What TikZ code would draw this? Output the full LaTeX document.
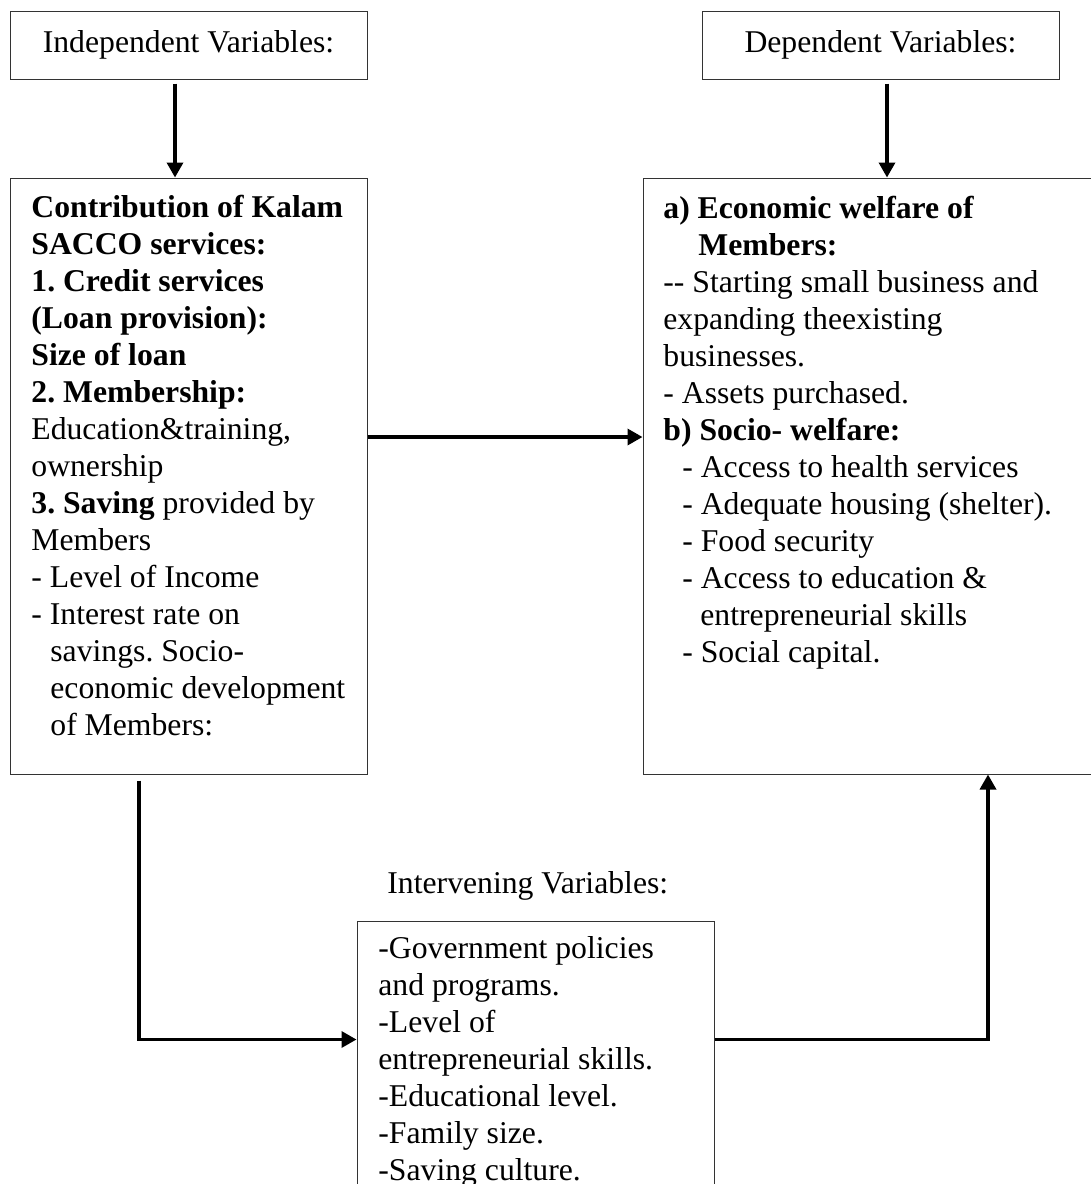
\documentclass[tikz,border=0pt]{standalone}
\usepackage{fontspec}
\setmainfont{Liberation Serif}
\usetikzlibrary{arrows.meta}
\newcommand{\bodyfont}{\fontsize{15.85}{18.5}\selectfont\frenchspacing}

\begin{document}
\begin{tikzpicture}[x=0.5pt, y=-0.5pt,
    varbox/.style={draw=black!80, line width=0.5pt, inner sep=0pt, font=\bodyfont},
    bodytext/.style={anchor=base west, inner sep=0pt, align=left, font=\bodyfont},
    flow/.style={line width=1.7pt, -{Triangle[width=8pt,length=7.5pt]}}]
    \useasboundingbox (0,0) rectangle (1091,1184);
    \clip (0,0) rectangle (1091,1184);
    % boxes
    \node[varbox, minimum width=178.5pt, minimum height=34pt] (indep) at (188.5,45) {Independent Variables:};
    \node[varbox, minimum width=178.5pt, minimum height=34pt] (dep) at (880.5,45) {Dependent Variables:};
    \node[varbox, minimum width=178.5pt, minimum height=298pt] (serv) at (188.5,476) {};
    \node[varbox, minimum width=226.5pt, minimum height=298pt] (welf) at (869.5,476) {};
    \node[varbox, minimum width=178.5pt, minimum height=160pt] (interv) at (535.5,1081) {};
    % texts (placed by the baseline of their last line)
    \node[bodytext] (servtext) at (31,735) {%
        \textbf{Contribution of Kalam}\\
        \textbf{SACCO services:}\\
        \textbf{1. Credit services}\\
        \textbf{(Loan provision):}\\
        \textbf{Size of loan}\\
        \textbf{2. Membership:}\\
        Education\&training,\\
        ownership\\
        \textbf{3. Saving} provided by\\
        Members\\
        - Level of Income\\
        - Interest rate on\\
        \hspace*{9.5pt}savings. Socio-\\
        \hspace*{9.5pt}economic development\\
        \hspace*{9.5pt}of Members:};
    \node[bodytext] (welftext) at (663,662) {%
        \textbf{a) Economic welfare of}\\
        \hspace*{17.5pt}\textbf{Members:}\\
        -{}- Starting small business and\\
        expanding theexisting\\
        businesses.\\
        - Assets purchased.\\
        \textbf{b) Socio- welfare:}\\
        \hspace*{9.5pt}- Access to health services\\
        \hspace*{9.5pt}- Adequate housing (shelter).\\
        \hspace*{9.5pt}- Food security\\
        \hspace*{9.5pt}- Access to education \&\\
        \hspace*{18.5pt}entrepreneurial skills\\
        \hspace*{9.5pt}- Social capital.};
    \node[bodytext] (intervlabel) at (387,893) {Intervening Variables:};
    \node[bodytext] (intervtext) at (378,1180) {%
        -Government policies\\
        and programs.\\
        -Level of\\
        entrepreneurial skills.\\
        -Educational level.\\
        -Family size.\\
        -Saving culture.};
    % connectors
    \draw[flow, shorten <=2pt] ([xshift=-6.75pt]indep.south) -- ([xshift=-6.75pt]indep.south |- serv.north);
    \draw[flow, shorten <=2pt] ([xshift=3.25pt]dep.south) -- ([xshift=3.25pt]dep.south |- welf.north);
    \draw[flow] ([yshift=19.5pt]serv.east) -- ([yshift=19.5pt]welf.west);
    \draw[flow, shorten <=3pt] ([xshift=-24.75pt]serv.south) |- ([yshift=-59.5pt]interv.north west);
    \draw[flow] ([yshift=-59.5pt]interv.north east) -| ([xshift=59.25pt]welf.south);
\end{tikzpicture}
\end{document}
